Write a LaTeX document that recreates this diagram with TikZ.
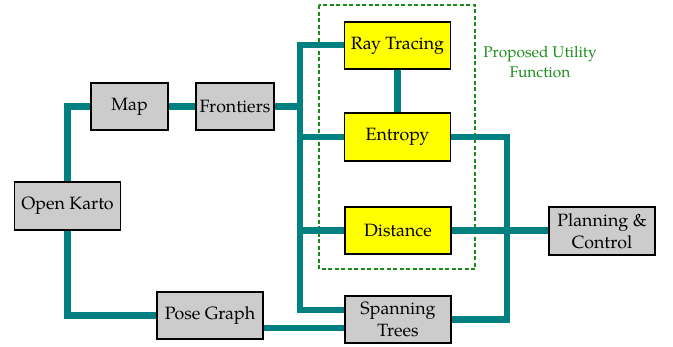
\documentclass[tikz,border=0pt]{standalone}
\usepackage{fontspec}
\setmainfont{TeX Gyre Pagella}
\usetikzlibrary{backgrounds}
\definecolor{linkc}{RGB}{0,128,128}
\definecolor{boxgray}{RGB}{204,204,204}
\definecolor{boxyellow}{RGB}{255,255,0}
\definecolor{grp}{RGB}{25,140,25}
\begin{document}
\begin{tikzpicture}[x=1pt,y=-1pt,
  box/.style={draw=black, line width=1.5pt, inner sep=0pt, minimum height=47pt, align=center, font=\fontsize{17.8}{22.5}\selectfont},
  gbox/.style={box, fill=boxgray, minimum width=106pt},
  ybox/.style={box, fill=boxyellow, minimum width=106pt},
  link/.style={draw=linkc, line width=6.5pt},
  grpbox/.style={draw=grp, line width=1.3pt, dash pattern=on 4pt off 2.5pt}]
\useasboundingbox (0,0) rectangle (673,346);
% nodes
\node[gbox, minimum width=77pt] (map) at (129.5,106.5) {Map};
\node[gbox, minimum width=78pt] (fr) at (235,106.5) {Frontiers};
\node[gbox, minimum height=48pt] (ok) at (67.5,206) {Open Karto};
\node[gbox] (pg) at (210,315.5) {Pose Graph};
\node[gbox] (st) at (398,319.5) {Spanning\\Trees};
\node[ybox] (rt) at (397.5,45.5) {Ray Tracing};
\node[ybox, minimum height=48pt] (en) at (397.5,137) {Entropy};
\node[ybox] (di) at (398,230.5) {Distance};
\node[gbox, minimum height=48pt] (pc) at (602,231) {Planning \&\\Control};
\node[text=grp, align=center, font=\fontsize{15.5}{20}\selectfont] (lbl) at (540,62) {Proposed Utility\\Function};
\coordinate (t1) at (300,45);
\coordinate (t2) at (300,310);
\coordinate (rv) at (507,137);
% connectors
\begin{scope}[on background layer]
\draw[grpbox] (319,5) rectangle (475,269);
\draw[link] (ok.north) |- (map.west);
\draw[link] (map.east) -- (fr.west);
\draw[link] (fr.east) -- (fr.east -| t1);
\draw[link, line join=miter] (rt.west |- t1) -| (t2) -- (st.west |- t2);
\draw[link] (en.west) -- (en.west -| t1);
\draw[link] (di.west) -- (di.west -| t1);
\draw[link] (rt.south) -- (en.north);
\draw[link, line join=miter] (en.east) -| (rv |- st.east) -- (st.east);
\draw[link] (di.east) -- (di.east -| pc.west);
\draw[link, line join=miter] (ok.south) |- (pg.west);
\draw[link] (pg.east |- 0,328) -- (st.west |- 0,328);
\end{scope}
\end{tikzpicture}
\end{document}
